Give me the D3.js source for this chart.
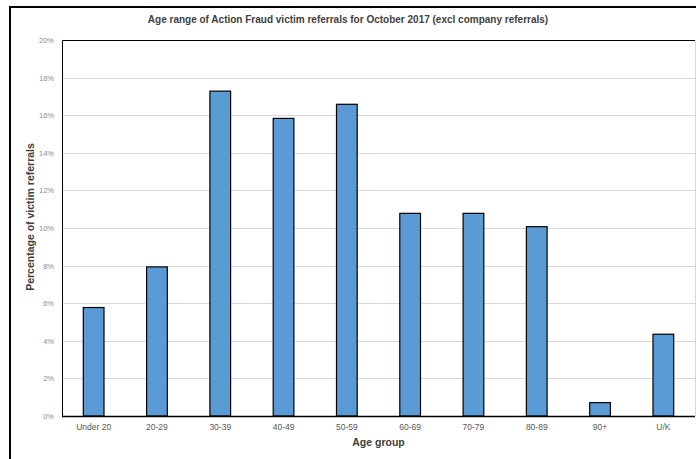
<!DOCTYPE html>
<html>
<head>
<meta charset="utf-8">
<script src="https://cdn.jsdelivr.net/npm/d3@7"></script>
<style>
  html, body { margin: 0; padding: 0; background: #fff; }
  svg { display: block; }
  text { font-family: "Liberation Sans Narrow", "Liberation Sans", "DejaVu Sans Condensed", sans-serif; }
</style>
</head>
<body>
<svg id="chart" width="696" height="459"></svg>
<script>
const categories = ["Under 20", "20-29", "30-39", "40-49", "50-59", "60-69", "70-79", "80-89", "90+", "U/K"];
const values = [5.77, 7.93, 17.28, 15.83, 16.58, 10.78, 10.78, 10.07, 0.71, 4.35];
const yTicks = [0, 2, 4, 6, 8, 10, 12, 14, 16, 18, 20];
const title = "Age range of Action Fraud victim referrals for October 2017 (excl company referrals)";
const xTitle = "Age group";
const yTitle = "Percentage of victim referrals";

const svg = d3.select("#chart");
const W = 696, H = 459;
const plot = { left: 62, top: 40, right: 695, bottom: 416 };

// outer chart frame
svg.append("path")
  .attr("d", `M10,${H + 5} L10,7 L${W + 5},7`)
  .attr("fill", "none").attr("stroke", "#000").attr("stroke-width", 2);

const x = d3.scaleBand().domain(categories).range([plot.left, plot.right]).paddingInner(0.673).paddingOuter(0.3365);
const y = d3.scaleLinear().domain([0, 20]).range([plot.bottom, plot.top]);

// gridlines
svg.append("g").selectAll("line").data(yTicks.slice(1, -1)).join("line")
  .attr("x1", plot.left).attr("x2", plot.right)
  .attr("y1", d => Math.round(y(d)) + 0.5).attr("y2", d => Math.round(y(d)) + 0.5)
  .attr("stroke", "#d9d9d9").attr("stroke-width", 1);

// right border (light)
svg.append("line").attr("x1", plot.right + 0.5).attr("x2", plot.right + 0.5)
  .attr("y1", plot.top).attr("y2", plot.bottom).attr("stroke", "#d9d9d9");

// bars
svg.append("g").selectAll("rect").data(values).join("rect")
  .attr("x", (d, i) => x(categories[i]))
  .attr("y", d => y(d))
  .attr("width", x.bandwidth())
  .attr("height", d => plot.bottom - y(d))
  .attr("fill", "#5b9bd5").attr("stroke", "#000").attr("stroke-width", 1.2);

// plot frame: left, top, bottom
svg.append("path")
  .attr("d", `M${plot.left + 0.5},${plot.bottom + 0.5} L${plot.left + 0.5},${plot.top + 0.5} L${plot.right},${plot.top + 0.5}`)
  .attr("fill", "none").attr("stroke", "#000").attr("stroke-width", 1);
svg.append("line").attr("x1", plot.left).attr("x2", plot.right)
  .attr("y1", plot.bottom + 0.5).attr("y2", plot.bottom + 0.5)
  .attr("stroke", "#000").attr("stroke-width", 1.3);

// y axis labels
const yAxis = d3.axisLeft(y).tickValues(yTicks).tickFormat(d => d + "%").tickSize(0).tickPadding(8);
const gy = svg.append("g").attr("transform", `translate(${plot.left},0)`).call(yAxis);
gy.select(".domain").remove();
gy.selectAll("text").attr("fill", "#8c8c8c").attr("font-size", 7.5)
  .style("font-family", '"Liberation Sans Narrow", "Liberation Sans", sans-serif');

// x axis labels
const xAxis = d3.axisBottom(x).tickSize(0).tickPadding(8);
const gx = svg.append("g").attr("transform", `translate(0,${plot.bottom})`).call(xAxis);
gx.select(".domain").remove();
gx.selectAll("text").attr("fill", "#595959").attr("font-size", 8.5)
  .style("font-family", '"Liberation Sans Narrow", "Liberation Sans", sans-serif');

// title
svg.append("text").attr("x", 348).attr("y", 23).attr("text-anchor", "middle")
  .attr("font-size", 10).attr("font-weight", "bold").attr("fill", "#404040")
  .text(title);

// x title
svg.append("text").attr("x", (plot.left + plot.right) / 2).attr("y", 446).attr("text-anchor", "middle")
  .attr("font-size", 10.5).attr("font-weight", "bold").attr("fill", "#404040")
  .text(xTitle);

// y title
svg.append("text").attr("transform", `translate(34,217) rotate(-90)`)
  .attr("text-anchor", "middle")
  .attr("font-size", 10.5).attr("font-weight", "bold").attr("fill", "#404040")
  .text(yTitle);
</script>
</body>
</html>
